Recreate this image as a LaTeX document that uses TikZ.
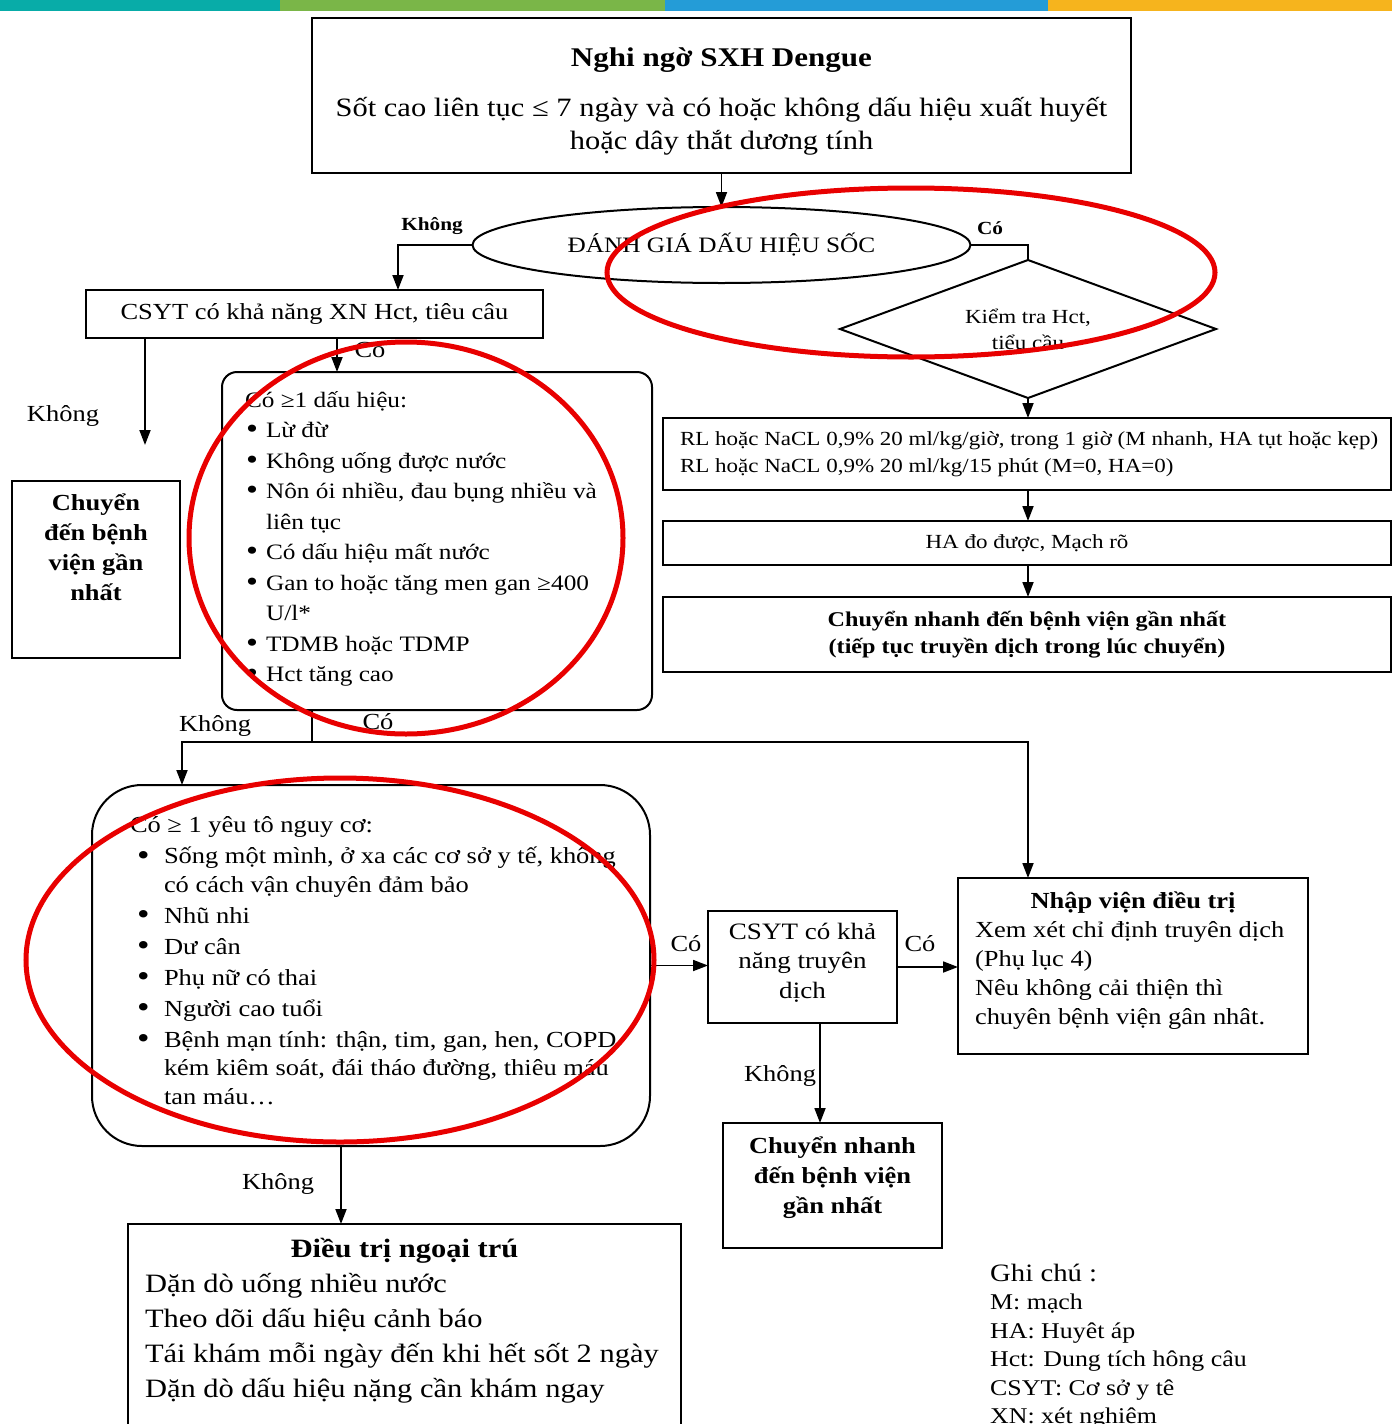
\documentclass[tikz,border=0pt]{standalone}
\usepackage{fontspec}
\setmainfont{Liberation Serif}[FakeStretch=1.15]
\usetikzlibrary{arrows.meta,shapes.geometric}

\definecolor{barteal}{RGB}{8,172,168}
\definecolor{bargreen}{RGB}{122,182,72}
\definecolor{barblue}{RGB}{36,156,215}
\definecolor{barorange}{RGB}{246,180,29}
\definecolor{markred}{RGB}{232,0,0}

% font size / baseline skip
\newcommand{\setfs}[2]{\fontsize{#1}{#2}\selectfont}
% fixed-size box body: width, height, top gap, content
\newcommand{\panelbody}[4]{\begin{minipage}[c][#2][t]{#1}\vspace*{#3}#4\end{minipage}}
% bullet item with hanging indent
\newlength{\bulhang}\newlength{\buloff}
\newcommand{\bulitem}[1]{\par\hangindent=\bulhang\hangafter=1\noindent
  \makebox[\bulhang][l]{\hspace*{\buloff}\raisebox{-0.05em}{\scalebox{1.35}{\textbullet}}}#1\par}

\begin{document}
\begin{tikzpicture}[x=1pt,y=-1pt,
  box/.style={draw, line width=2pt, inner sep=0pt, outer sep=0pt, anchor=north west},
  cbox/.style={draw, line width=2pt, inner sep=0pt, outer sep=0pt, align=center},
  arr/.style={line width=1.8pt, -{Triangle[length=15pt,width=11pt]}},
  link/.style={line width=1.8pt},
  lbl/.style={font=\setfs{23}{28}, inner sep=0pt},
  lblb/.style={font=\bfseries\setfs{18.5}{22}, inner sep=0pt},
  redring/.style={draw=markred, line width=5pt}]

\useasboundingbox (0,0) rectangle (1392,1424);
\clip (0,0) rectangle (1392,1424);

% colour bar along the top edge
\fill[barteal]   (0,0)    rectangle (280,11);
\fill[bargreen]  (280,0)  rectangle (665,11);
\fill[barblue]   (665,0)  rectangle (1048,11);
\fill[barorange] (1048,0) rectangle (1392,11);

% ---------- boxes ----------
\node[box, line width=2.6pt] (top) at (312,18) {\panelbody{819pt}{155pt}{24.9pt}{\centering
  {\bfseries\setfs{27}{33}\strut Nghi ngờ SXH Dengue\par}\vspace{17pt}
  \setfs{26.5}{33}Sốt cao liên tục ≤ 7 ngày và có hoặc không dấu hiệu xuất huyết\\hoặc dây thắt dương tính\par}};

\node[cbox, ellipse, minimum width=498pt, minimum height=76pt, font=\setfs{22}{26}] (ell) at (721.5,245) {ĐÁNH GIÁ DẤU HIỆU SỐC};

\node[cbox, diamond, aspect=2.7, minimum width=376pt, minimum height=138pt, font=\setfs{20}{26}] (diam) at (1028,329) {Kiểm tra Hct,\\tiểu cầu};

\node[box] (rl) at (663,418) {\panelbody{728pt}{72pt}{8.1pt}{\setfs{20}{27}\leftskip=17pt
  \strut RL hoặc NaCL 0,9\% 20 ml/kg/giờ, trong 1 giờ (M nhanh, HA tụt hoặc kẹp)\\RL hoặc NaCL 0,9\% 20 ml/kg/15 phút (M=0, HA=0)\par}};

\node[cbox, minimum width=728pt, minimum height=44pt, font=\setfs{20}{27}] (ha) at (1027,543) {HA đo được, Mạch rõ};

\node[cbox, minimum width=728pt, minimum height=75pt, font=\bfseries\setfs{21}{27}] (cn1) at (1027,634.5) {Chuyển nhanh đến bệnh viện gần nhất\\(tiếp tục truyền dịch trong lúc chuyển)};

\node[cbox, minimum width=457pt, minimum height=48pt, font=\setfs{23}{28}] (csyt) at (314.5,314) {CSYT có khả năng XN Hct, tiêu câu};

\node[box] (cd) at (12,481) {\panelbody{168pt}{177pt}{8pt}{\centering\bfseries\setfs{23}{30}
  \strut Chuyển\\đến bệnh\\viện gần\\nhất\par}};

\node[box, rounded corners=15pt] (rb1) at (222,372) {\panelbody{430pt}{338pt}{13.65pt}{\setfs{22}{30.5}\leftskip=23pt
  \setlength{\bulhang}{21pt}\setlength{\buloff}{1pt}%
  \strut Có ≥1 dấu hiệu:\par
  \bulitem{Lừ đừ}
  \bulitem{Không uống được nước}
  \bulitem{Nôn ói nhiều, đau bụng nhiều và\\liên tục}
  \bulitem{Có dấu hiệu mất nước}
  \bulitem{Gan to hoặc tăng men gan ≥400\\U/l*}
  \bulitem{TDMB hoặc TDMP}
  \bulitem{Hct tăng cao}}};

\node[box, rounded corners=50pt] (rb2) at (92,785) {\panelbody{558pt}{361pt}{28pt}{\setfs{23}{28.5}\leftskip=38pt
  \setlength{\bulhang}{34pt}\setlength{\buloff}{7pt}\parskip=2.5pt
  \strut Có ≥ 1 yêu tô nguy cơ:\par
  \bulitem{Sống một mình, ở xa các cơ sở y tế, không\\có cách vận chuyên đảm bảo}
  \bulitem{Nhũ nhi}
  \bulitem{Dư cân}
  \bulitem{Phụ nữ có thai}
  \bulitem{Người cao tuổi}
  \bulitem{Bệnh mạn tính: thận, tim, gan, hen, COPD\\kém kiêm soát, đái tháo đường, thiêu máu\\tan máu…}}};

\node[box] (csyt2) at (708,911) {\panelbody{189pt}{112pt}{7.35pt}{\centering\setfs{23.5}{29.5}
  \strut CSYT có khả\\năng truyên\\dịch\par}};

\node[box] (nv) at (958,878) {\panelbody{350pt}{176pt}{9.7pt}{\setfs{23}{29}
  {\centering\bfseries\strut Nhập viện điều trị\par}
  \leftskip=17pt Xem xét chỉ định truyên dịch\\(Phụ lục 4)\\Nêu không cải thiện thì\\chuyên bệnh viện gân nhât.\par}};

\node[box] (cn2) at (723,1123) {\panelbody{219pt}{125pt}{9pt}{\centering\bfseries\setfs{23}{30}
  \strut Chuyển nhanh\\đến bệnh viện\\gần nhất\par}};

\node[box] (dt) at (128,1224) {\panelbody{553pt}{230pt}{8.5pt}{\setfs{26.5}{35}
  {\centering\bfseries\strut Điều trị ngoại trú\par}
  \leftskip=17pt Dặn dò uống nhiều nước\\Theo dõi dấu hiệu cảnh báo\\Tái khám mỗi ngày đến khi hết sốt 2 ngày\\Dặn dò dấu hiệu nặng cần khám ngay\par}};

\node[inner sep=0pt, anchor=north west] (legend) at (990,1250) {\panelbody{390pt}{200pt}{11.05pt}{\setfs{25}{28.5}
  \strut Ghi chú :\par
  \setfs{22.5}{28.5}M: mạch\\HA: Huyêt áp\\Hct: Dung tích hông câu\\CSYT: Cơ sở y tê\\XN: xét nghiệm\par}};

% ---------- connectors ----------
\coordinate (xk) at (398,0);
\coordinate (xc2) at (145,445);
\coordinate (xc3) at (337,0);
\coordinate (split) at (312,742);
\coordinate (xleft) at (182,0);
\coordinate (xright) at (1028,0);
\coordinate (xc7) at (820,0);
\coordinate (xc8) at (341,0);

\draw[arr] (top.south) -- (ell.north);
\draw[arr] (ell.west) -| (csyt.north -| xk);
\draw[link] (ell.east) -| (diam.north);
\draw[arr] (diam.south) -- (rl.north -| diam.south);
\draw[arr] (rl.south -| diam.south) -- (ha.north -| diam.south);
\draw[arr] (ha.south -| diam.south) -- (cn1.north -| diam.south);

\draw[arr] (csyt.south -| xc2) -- (xc2);
\draw[arr] (csyt.south -| xc3) -- (rb1.north -| xc3);

\draw[link] (rb1.south -| split) -- (split);
\draw[arr] (split) -| (rb2.north -| xleft);
\draw[arr] (split) -| (nv.north -| xright);

\draw[arr] (rb2.east) -- (csyt2.west |- rb2.east);
\draw[arr] (csyt2.east) -- (nv.west |- csyt2.east);
\draw[arr] (csyt2.south -| xc7) -- (cn2.north -| xc7);
\draw[arr] (rb2.south -| xc8) -- (dt.north -| xc8);

% ---------- branch labels ----------
\node[lblb] (l1) at (432,226) {Không};
\node[lblb] (l2) at (990,228) {Có};
\node[lbl] (l3) at (370,350) {Có};
\node[lbl] (l4) at (63,416) {Không};
\node[lbl] (l5) at (215,726) {Không};
\node[lbl] (l6) at (378,722) {Có};
\node[lbl] (l7) at (686,944) {Có};
\node[lbl] (l8) at (920,944) {Có};
\node[lbl] (l9) at (780,1076) {Không};
\node[lbl] (l10) at (278,1184) {Không};

% ---------- red highlight rings ----------
\draw[redring] (911,272.5) ellipse [x radius=304pt, y radius=84.5pt];
\draw[redring] (406,538) ellipse [x radius=217pt, y radius=196pt];
\draw[redring] (340,960) ellipse [x radius=314pt, y radius=182pt];

\end{tikzpicture}
\end{document}
